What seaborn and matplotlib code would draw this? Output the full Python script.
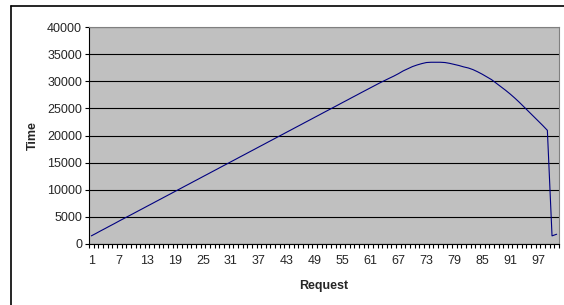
import numpy as np
import pandas as pd
import matplotlib
matplotlib.use("Agg")
import matplotlib.pyplot as plt
from matplotlib.lines import Line2D
from matplotlib.ticker import FixedLocator, MultipleLocator
import seaborn as sns

# response time per request
requests = list(range(1, 102))
times = [
    1500, 1950, 2420, 2870, 3330, 3780, 4250, 4700, 5150, 5600,
    6060, 6510, 6970, 7420, 7880, 8330, 8790, 9240, 9700, 10150,
    10610, 11060, 11520, 11970, 12430, 12880, 13340, 13790, 14250, 14700,
    15160, 15610, 16070, 16520, 16980, 17430, 17890, 18340, 18800, 19250,
    19710, 20160, 20620, 21070, 21530, 21980, 22440, 22890, 23350, 23800,
    24260, 24710, 25170, 25620, 26080, 26530, 26990, 27440, 27900, 28350,
    28800, 29250, 29700, 30120, 30540, 30950, 31400, 31900, 32300, 32700,
    33000, 33250, 33450, 33500, 33500, 33500, 33450, 33300, 33100, 32900,
    32650, 32450, 32150, 31750, 31300, 30800, 30300, 29650, 29000, 28350,
    27650, 26900, 26100, 25250, 24400, 23550, 22700, 21850, 20950, 1500,
    1800,
]
x_labels = list(range(1, 98, 6))
y_ticks = list(range(0, 40001, 5000))

df = pd.DataFrame({"Request": requests, "Time": times})

sns.set_style("white")
plt.rcParams["font.family"] = ["Liberation Sans", "DejaVu Sans"]

fig = plt.figure(figsize=(5.64, 3.05), dpi=100)
ax = fig.add_axes([89 / 564, 1 - 244 / 305, 470 / 564, 217 / 305])
ax.set_facecolor("#C0C0C0")

sns.lineplot(data=df, x="Request", y="Time", ax=ax, color="#000080", linewidth=0.8)

ax.set_xlim(0.5, 101.5)
ax.set_ylim(0, 40000)

ax.set_yticks(y_ticks)
ax.set_yticklabels([str(v) for v in y_ticks], fontsize=9)
ax.yaxis.grid(True, color="black", linewidth=0.8)
ax.set_axisbelow(True)

ax.xaxis.set_major_locator(FixedLocator(x_labels))
ax.set_xticklabels([str(v) for v in x_labels], fontsize=9)
ax.xaxis.set_minor_locator(MultipleLocator(1, offset=0.5))
ax.tick_params(axis="x", which="major", length=0, pad=8)
ax.tick_params(axis="x", which="minor", length=3, width=0.8, color="black", direction="out", bottom=True)
ax.tick_params(axis="y", which="major", length=3, width=0.8, color="black", direction="out", left=True, pad=2)

for side in ["left", "bottom"]:
    ax.spines[side].set_color("black")
    ax.spines[side].set_linewidth(0.8)
for side in ["top", "right"]:
    ax.spines[side].set_color("#808080")
    ax.spines[side].set_linewidth(0.8)

ax.set_xlabel("Request", fontsize=9, fontweight="bold", labelpad=9)
ax.set_ylabel("Time", fontsize=9, fontweight="bold", labelpad=6)

# outer chart frame (cropped on right and bottom)
fx0, fy0 = 11 / 564, 1 - 6 / 305
fig.add_artist(Line2D([fx0, 1], [fy0, fy0], transform=fig.transFigure, color="black", linewidth=1.2))
fig.add_artist(Line2D([fx0, fx0], [0, fy0], transform=fig.transFigure, color="black", linewidth=1.2))

fig.savefig("out.png", dpi=100)
